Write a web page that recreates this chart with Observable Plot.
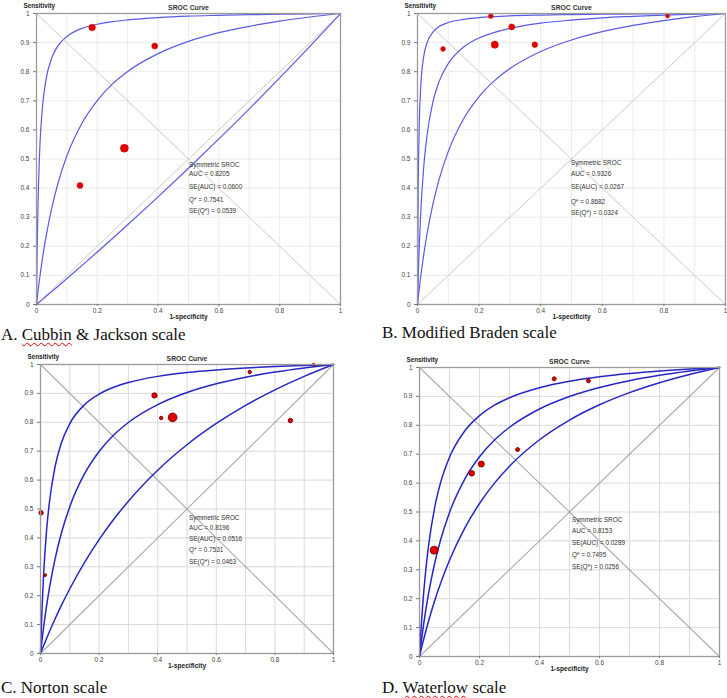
<!DOCTYPE html>
<html><head><meta charset="utf-8">
<script src="https://cdn.jsdelivr.net/npm/d3@7"></script>
<script src="https://cdn.jsdelivr.net/npm/@observablehq/plot@0.6"></script>
<style>
body{margin:0;background:#fff;}
#page{position:relative;width:727px;height:698px;overflow:hidden;background:#fff;}
.panel{position:absolute;}
.cap{position:absolute;font-family:"Liberation Serif","Tinos","DejaVu Serif","Times New Roman",Times,serif;font-size:17px;line-height:17px;color:#111;white-space:nowrap;}
.sq{text-decoration:underline wavy #e00000;text-decoration-thickness:1px;text-underline-offset:2px;}
</style></head><body><div id="page"></div>
<script>
// ---- shared axis ticks / grid ----
const gridTicks = [0,0.1,0.2,0.3,0.4,0.5,0.6,0.7,0.8,0.9,1];
const yTicks = [0,0.1,0.2,0.3,0.4,0.5,0.6,0.7,0.8,0.9,1];
const xTicks = [0,0.2,0.4,0.6,0.8,1];
const diagonals = [{x1:0,y1:0,x2:1,y2:1},{x1:0,y1:1,x2:1,y2:0}];
const statLabels = ["AUC","SE(AUC)","Q*","SE(Q*)"];

// ---- SROC curves: sensitivity read at these 1-specificity values ----
const fprGrid = [0,0.002,0.005,0.01,0.02,0.03,0.05,0.07,0.1,0.15,0.2,0.25,0.3,0.4,0.5,0.6,0.7,0.8,0.9,1];

// A. Cubbin & Jackson
const aCurveUpper = [0,0.174,0.345,0.515,0.682,0.765,0.847,0.888,0.921,0.949,0.963,0.972,0.978,0.986,0.991,0.9937,0.9959,0.9976,0.9989,1];
const aCurveMid   = [0,0.0185,0.0451,0.0867,0.161,0.225,0.331,0.414,0.511,0.624,0.701,0.758,0.801,0.862,0.904,0.934,0.956,0.974,0.988,1];
const aCurveLower = [0,0.0018,0.0044,0.0088,0.0176,0.0265,0.0443,0.0621,0.0891,0.1344,0.1803,0.2268,0.2739,0.3697,0.4681,0.569,0.6725,0.7788,0.8879,1];
const aFpr = [0.183,0.389,0.289,0.143];
const aTpr = [0.952,0.888,0.537,0.409];
const aWeight = [11,9,16,9];
const aStats = ["0.8205","0.0600","0.7541","0.0539"];

// B. Modified Braden
const bCurveUpper = [0,0.359,0.585,0.739,0.851,0.896,0.936,0.955,0.969,0.98,0.986,0.989,0.992,0.9947,0.9964,0.9976,0.9985,0.9991,0.9996,1];
const bCurveMid   = [0,0.08,0.179,0.305,0.47,0.573,0.696,0.766,0.828,0.885,0.916,0.935,0.949,0.967,0.977,0.985,0.99,0.9943,0.9974,1];
const bCurveLower = [0,0.0196,0.0478,0.0917,0.1695,0.2362,0.3448,0.4294,0.5263,0.6383,0.7143,0.7692,0.8108,0.8696,0.9091,0.9375,0.9589,0.9756,0.989,1];
const bFpr = [0.238,0.306,0.251,0.381,0.083,0.812];
const bTpr = [0.991,0.954,0.893,0.893,0.878,0.991];
const bWeight = [6,9,13,8,6,4];
const bStats = ["0.9326","0.0267","0.8682","0.0324"];

// C. Norton
const cCurveUpper = [0,0.0655,0.1496,0.2612,0.4167,0.5198,0.6481,0.7249,0.7955,0.8607,0.8974,0.9211,0.9375,0.9589,0.9722,0.9813,0.9879,0.9929,0.9968,1];
const cCurveMid   = [0,0.0183,0.0446,0.0859,0.1595,0.2234,0.3286,0.4118,0.5082,0.6214,0.6992,0.7561,0.7994,0.8611,0.9029,0.9331,0.9559,0.9738,0.9882,1];
const cCurveLower = [0,0.0052,0.0129,0.0256,0.0504,0.0744,0.1204,0.1637,0.2241,0.3145,0.3939,0.4643,0.527,0.6341,0.7222,0.7959,0.8585,0.9123,0.959,1];
const cFpr = [0.389,0.412,0.451,0.714,0.853,0.002,0.016,0.932];
const cTpr = [0.893,0.815,0.817,0.974,0.806,0.487,0.271,0.999];
const cWeight = [7,3,19,3,5,5,2,2];
const cStats = ["0.8196","0.0516","0.7531","0.0463"];

// D. Waterlow
const dCurveUpper = [0,0.0385,0.0913,0.1681,0.2899,0.3822,0.5128,0.6009,0.6897,0.7792,0.8333,0.8696,0.8955,0.9302,0.9524,0.9677,0.979,0.9877,0.9945,1];
const dCurveMid   = [0,0.0176,0.043,0.0829,0.1544,0.2168,0.3202,0.4025,0.4986,0.6123,0.6911,0.749,0.7932,0.8565,0.8995,0.9307,0.9543,0.9728,0.9877,1];
const dCurveLower = [0,0.0089,0.0221,0.0435,0.0841,0.1222,0.1915,0.253,0.3333,0.4426,0.5294,0.6,0.6585,0.75,0.8182,0.871,0.913,0.9474,0.9759,1];
const dFpr = [0.449,0.563,0.327,0.206,0.174,0.049];
const dTpr = [0.961,0.954,0.716,0.666,0.634,0.368];
const dWeight = [4,4,4,9,8,16];
const dStats = ["0.8153","0.0289","0.7495","0.0256"];

const captions = [
  {html:'A. <span class="sq">Cubbin</span> &amp; Jackson scale', left:1, top:326},
  {html:'B. Modified Braden scale', left:382, top:324},
  {html:'C. Norton scale', left:1, top:679},
  {html:'D. <span class="sq">Waterlow</span> scale', left:382, top:679}
];

const light = {grid:"#ebebeb", diag:"#cccccc", diagW:1, curve:"#5a5ae6", curveW:1.2, dotStroke:"#d40000", dotW:0.5};
const dark  = {grid:"#dadada", diag:"#ababab", diagW:1.1, curve:"#2626c8", curveW:1.5, dotStroke:"#7a0000", dotW:0.9};

const panels = [
  {left:0, top:0, width:355, height:325, mL:36, mR:15, mT:13, mB:21, fpr:aFpr, tpr:aTpr, w:aWeight,
   curves:[aCurveUpper,aCurveMid,aCurveLower], stats:aStats, sx:0.502, sy:[0.480,0.447,0.404,0.358,0.323], st:light},
  {left:362, top:0, width:365, height:325, mL:55, mR:2, mT:13, mB:21, fpr:bFpr, tpr:bTpr, w:bWeight,
   curves:[bCurveUpper,bCurveMid,bCurveLower], stats:bStats, sx:0.498, sy:[0.486,0.449,0.403,0.354,0.316], st:light},
  {left:0, top:345, width:350, height:330, mL:40, mR:17, mT:19, mB:22, fpr:cFpr, tpr:cTpr, w:cWeight,
   curves:[cCurveUpper,cCurveMid,cCurveLower], stats:cStats, sx:0.507, sy:[0.470,0.434,0.396,0.357,0.316], st:dark},
  {left:362, top:345, width:365, height:330, mL:57, mR:8, mT:22, mB:19, fpr:dFpr, tpr:dTpr, w:dWeight,
   curves:[dCurveUpper,dCurveMid,dCurveLower], stats:dStats, sx:0.508, sy:[0.471,0.433,0.393,0.351,0.309], st:dark}
];

const fmt = d => String(Math.round(d * 10) / 10);
const page = document.getElementById("page");

for (const p of panels) {
  const curveData = [];
  p.curves.forEach((ys, ci) => ys.forEach((t, i) => curveData.push({f: fprGrid[i], t, c: ci})));
  const pts = p.fpr.map((f, i) => ({f, t: p.tpr[i], w: p.w[i]}));
  const statLines = ["Symmetric SROC", ...statLabels.map((l, i) => `${l} = ${p.stats[i]}`)];
  const s = p.st;
  const chart = Plot.plot({
    width: p.width, height: p.height,
    marginLeft: p.mL, marginRight: p.mR, marginTop: p.mT, marginBottom: p.mB,
    x: {domain: [0, 1], axis: null},
    y: {domain: [0, 1], axis: null},
    r: {type: "sqrt", domain: [0, 16], range: [0, 4]},
    style: {fontFamily: "'Liberation Sans', Arial, sans-serif", background: "transparent", overflow: "visible"},
    marks: [
      Plot.gridX(gridTicks, {stroke: s.grid, strokeOpacity: 1, strokeWidth: 1}),
      Plot.gridY(gridTicks, {stroke: s.grid, strokeOpacity: 1, strokeWidth: 1}),
      Plot.link(diagonals, {x1: "x1", y1: "y1", x2: "x2", y2: "y2", stroke: s.diag, strokeWidth: s.diagW}),
      Plot.line(curveData, {x: "f", y: "t", z: "c", stroke: s.curve, strokeWidth: s.curveW, curve: "monotone-x"}),
      Plot.dot(pts, {x: "f", y: "t", r: "w", fill: "#e00000", stroke: s.dotStroke, strokeWidth: s.dotW}),
      Plot.frame({stroke: "#9a9a9a", strokeWidth: 1.3}),
      Plot.axisY(yTicks, {tickSize: 3, tickPadding: 4, tickFormat: fmt, fontSize: 6.5, fill: "#444", stroke: "#777", label: null}),
      Plot.axisX(xTicks, {tickSize: 2, tickPadding: 2, tickFormat: fmt, fontSize: 6.5, fill: "#444", stroke: "#777", label: null}),
      Plot.text(["Sensitivity"], {text: d => d, frameAnchor: "top-left", dx: -13, dy: -9.5, textAnchor: "start", fontWeight: "bold", fontSize: 6.3, fill: "#222"}),
      Plot.text(["SROC Curve"], {text: d => d, frameAnchor: "top", dy: -8.5, fontWeight: "bold", fontSize: 6.8, fill: "#333"}),
      Plot.text(["1-specificity"], {text: d => d, frameAnchor: "bottom", dy: 14, fontWeight: "bold", fontSize: 6.6, fill: "#222"}),
      Plot.text(statLines, {x: statLines.map(() => p.sx), y: p.sy, text: statLines, textAnchor: "start", fontSize: 6.4, fill: "#333"})
    ]
  });
  const div = document.createElement("div");
  div.className = "panel";
  div.style.left = p.left + "px";
  div.style.top = p.top + "px";
  div.appendChild(chart);
  page.appendChild(div);
}

for (const c of captions) {
  const d = document.createElement("div");
  d.className = "cap";
  d.style.left = c.left + "px";
  d.style.top = c.top + "px";
  d.innerHTML = c.html;
  page.appendChild(d);
}
</script></body></html>
